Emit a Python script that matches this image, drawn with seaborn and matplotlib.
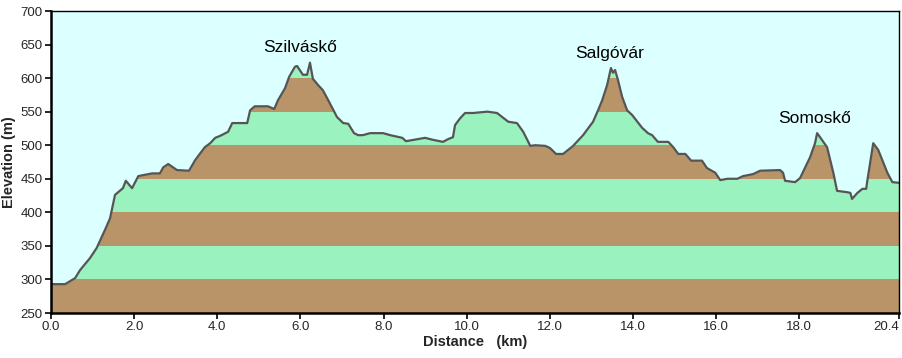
import numpy as np
import pandas as pd
import matplotlib
matplotlib.use("Agg")
import matplotlib.pyplot as plt
import seaborn as sns

# Elevation profile
DIST_KM = [0.0, 0.34, 0.58, 0.7, 0.94, 1.1, 1.3, 1.42, 1.54, 1.73, 1.8, 1.95, 2.1, 2.43,
           2.62, 2.7, 2.82, 3.03, 3.32, 3.47, 3.7, 3.83, 3.95, 4.07, 4.26, 4.36, 4.72,
           4.79, 4.9, 5.22, 5.37, 5.46, 5.63, 5.73, 5.87, 5.92, 6.06, 6.16, 6.23, 6.3,
           6.42, 6.54, 6.67, 6.88, 7.03, 7.15, 7.29, 7.39, 7.5, 7.68, 7.99, 8.16, 8.45,
           8.54, 8.81, 9.0, 9.19, 9.43, 9.55, 9.67, 9.72, 9.84, 9.96, 10.15, 10.5, 10.73,
           11.0, 11.21, 11.36, 11.53, 11.65, 11.89, 12.0, 12.15, 12.32, 12.56, 12.8,
           13.04, 13.16, 13.26, 13.38, 13.47, 13.52, 13.57, 13.64, 13.74, 13.86, 13.98,
           14.22, 14.36, 14.46, 14.6, 14.85, 14.97, 15.09, 15.26, 15.4, 15.66, 15.78,
           15.98, 16.1, 16.27, 16.51, 16.65, 16.89, 17.06, 17.54, 17.61, 17.66, 17.9,
           18.02, 18.26, 18.38, 18.43, 18.5, 18.67, 18.82, 18.91, 19.15, 19.23, 19.27,
           19.4, 19.52, 19.61, 19.64, 19.78, 19.9, 20.12, 20.24, 20.4]
ELEV_M = [293, 293, 302, 314, 332, 347, 374, 391, 426, 436, 447, 436, 454, 458,
          458, 467, 472, 463, 462, 478, 497, 503, 511, 514, 520, 533, 533,
          552, 558, 558, 554, 567, 585, 602, 617, 618, 605, 605, 623, 599,
          590, 582, 567, 542, 533, 532, 518, 515, 515, 518, 518, 515, 511,
          506, 509, 511, 508, 505, 509, 512, 530, 540, 548, 548, 550, 548,
          535, 533, 520, 499, 500, 499, 496, 487, 487, 499, 515,
          535, 552, 567, 590, 615, 608, 612, 597, 572, 552, 545,
          526, 518, 515, 505, 505, 497, 487, 487, 477, 477, 466,
          459, 448, 450, 450, 454, 457, 462, 463, 459, 447, 445,
          451, 482, 503, 518, 512, 497, 459, 432, 430, 429, 420,
          429, 435, 435, 448, 503, 493, 459, 445, 444]

PEAK_NAMES = ["Szilváskő", "Salgóvár", "Somoskő"]
PEAK_X = [6.0, 13.45, 18.38]
PEAK_Y = [646, 637, 540]

X_TICKS = [0, 2, 4, 6, 8, 10, 12, 14, 16, 18, 20.4]
Y_TICKS = list(range(250, 701, 50))

BROWN = "#b89468"
GREEN = "#9af2be"
SKY = "#dcffff"


def main():
    df = pd.DataFrame({"dist": DIST_KM, "elev": ELEV_M})

    sns.set_style("ticks")
    plt.rcParams["font.family"] = ["Liberation Sans", "DejaVu Sans"]

    fig = plt.figure(figsize=(9.03, 3.58), dpi=100)
    ax = fig.add_axes([51 / 903, 1 - 313 / 358, 848 / 903, 302 / 358])

    # alternating elevation bands
    for i, lo in enumerate(Y_TICKS[:-1]):
        ax.axhspan(lo, lo + 50, color=BROWN if i % 2 == 0 else GREEN, lw=0, zorder=0)

    # sky above the profile
    ax.fill_between(df["dist"], df["elev"], 700, color=SKY, lw=0, zorder=1)
    sns.lineplot(data=df, x="dist", y="elev", ax=ax, color="#555555", lw=1.6, zorder=2)

    for name, px, py in zip(PEAK_NAMES, PEAK_X, PEAK_Y):
        ax.text(px, py, name, ha="center", va="center", fontsize=12.5, color="black")

    ax.set_xlim(0, 20.4)
    ax.set_ylim(250, 700)
    ax.set_xticks(X_TICKS)
    ax.set_xticklabels([f"{t:.1f}" for t in X_TICKS])
    ax.set_yticks(Y_TICKS)
    ax.tick_params(labelsize=9.5, length=4, width=1.2, color="black", pad=2)
    # keep last label inside the figure, like the reference
    ax.get_xticklabels()[-1].set_horizontalalignment("right")
    ax.set_xlabel("Distance   (km)", fontsize=10.5, fontweight="bold", labelpad=1)
    ax.set_ylabel("Elevation (m)", fontsize=10.5, fontweight="bold", labelpad=3)

    for side in ["left", "bottom"]:
        ax.spines[side].set_linewidth(1.8)
    for side in ["top", "right"]:
        ax.spines[side].set_linewidth(1.0)
    for sp in ax.spines.values():
        sp.set_color("black")
        sp.set_zorder(5)

    fig.savefig("out.png", dpi=100)


if __name__ == "__main__":
    main()
